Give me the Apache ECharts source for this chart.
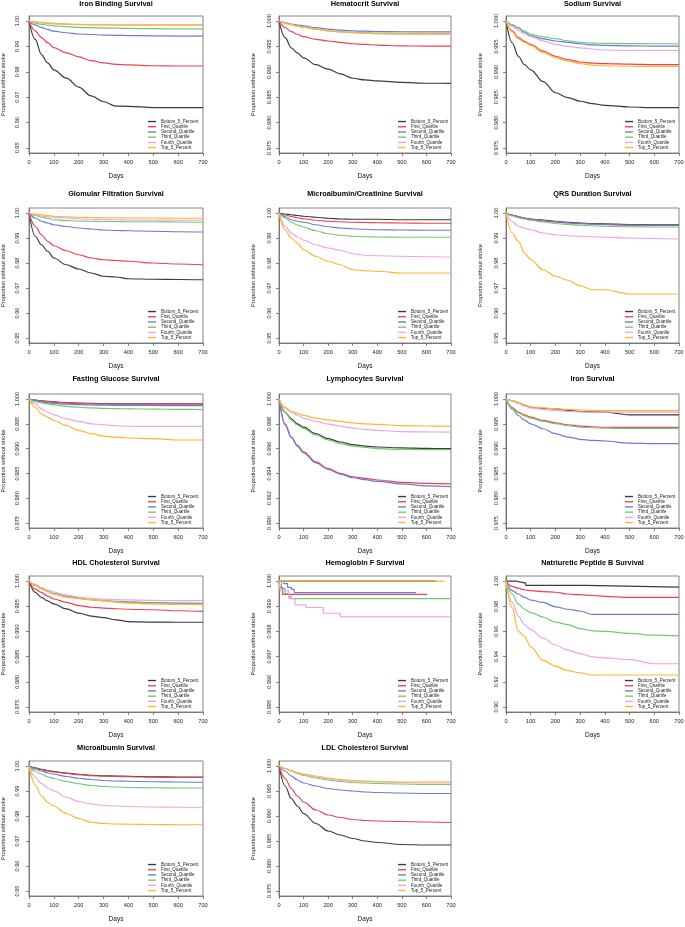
<!DOCTYPE html>
<html><head><meta charset="utf-8">
<script src="https://cdn.jsdelivr.net/npm/echarts@6/dist/echarts.min.js"></script>
<style>html,body{margin:0;padding:0;background:#fff}#c{width:685px;height:927px}</style>
</head><body><div id="c"></div>
<script>
// ---------- DATA ----------
const days = [0, 25, 50, 75, 100, 150, 200, 250, 300, 350, 400, 500, 600, 700];
const seriesNames = ['Bottom_5_Percent', 'First_Quartile', 'Second_Quartile', 'Third_Quartile', 'Fourth_Quartile', 'Top_5_Percent'];
const xTickLabels = ['0', '100', '200', '300', '400', '500', '600', '700'];
const yTicks95 = ['0.95', '0.96', '0.97', '0.98', '0.99', '1.00'];
const yTicks975 = ['0.975', '0.980', '0.985', '0.990', '0.995', '1.000'];
const yTicks990 = ['0.990', '0.992', '0.994', '0.996', '0.998', '1.000'];
const yTicks995 = ['0.995', '0.996', '0.997', '0.998', '0.999', '1.000'];
const yTicks90 = ['0.90', '0.92', '0.94', '0.96', '0.98', '1.00'];
const panelTitles = ['Iron Binding Survival', 'Hematocrit Survival', 'Sodium Survival',
  'Glomular Filtration Survival', 'Microalbumin/Creatinine Survival', 'QRS Duration Survival',
  'Fasting Glucose Survival', 'Lymphocytes Survival', 'Iron Survival',
  'HDL Cholesterol Survival', 'Hemoglobin F Survival', 'Natriuretic Peptide B Survival',
  'Microalbumin Survival', 'LDL Cholesterol Survival'];

const ironBinding = [
  [1, .9928, .9868, .9835, .9808, .9775, .9740, .9705, .9682, .9665, .9664, .9659, .9659, .9659],
  [1, .9961, .9935, .9915, .9895, .9875, .9859, .9844, .9835, .9829, .9827, .9824, .9823, .9823],
  [1, .9985, .9975, .9967, .9960, .9954, .9949, .9947, .9945, .9944, .9943, .9942, .9941, .9941],
  [1, .9992, .9987, .9984, .9981, .9978, .9975, .9974, .9973, .9972, .9971, .9970, .9969, .9969],
  [1, .9996, .9993, .9991, .9989, .9987, .9986, .9985, .9985, .9984, .9984, .9984, .9984, .9984],
  [1, .9997, .9995, .9993, .9991, .9989, .9987, .9986, .9985, .9985, .9985, .9985, .9985, .9985]];
const hematocrit = [
  [1, .99673, .99473, .99373, .99273, .9914, .99053, .9896, .98873, .9884, .9882, .9879, .98775, .98773],
  [1, .99873, .99793, .99740, .99693, .9964, .99607, .9958, .99553, .9954, .99527, .9951, .99507, .99507],
  [1, .9997, .9994, .9992, .99907, .9987, .9984, .9982, .99807, .998, .99795, .9979, .99787, .99787],
  [1, .9996, .9993, .9990, .9988, .9984, .9981, .9979, .99775, .9977, .99765, .9976, .99755, .99753],
  [1, .9996, .9993, .9990, .9988, .9984, .9981, .9978, .9977, .9976, .9975, .9974, .9974, .9974],
  [1, .9996, .9993, .9990, .9988, .9984, .99807, .9979, .99773, .9976, .9975, .99748, .99747, .99747]];
const sodium = [
  [1, .99573, .99307, .9914, .9904, .98807, .98587, .98493, .9842, .98373, .9834, .98307, .98293, .98293],
  [1, .99807, .99673, .9960, .9954, .99407, .99307, .9924, .99193, .9917, .9916, .9915, .9914, .9914],
  [1, .9992, .9986, .9978, .99707, .9965, .99607, .9958, .99553, .9953, .9952, .9951, .99507, .99507],
  [1, .9993, .9987, .9980, .9974, .9969, .99653, .9961, .9958, .99565, .9956, .99555, .99553, .99553],
  [1, .9990, .9981, .9975, .99693, .9961, .9954, .9950, .99473, .9945, .9943, .9942, .9942, .9942],
  [1, .9979, .9965, .9958, .9952, .9938, .9928, .9921, .9916, .9913, .9912, .9911, .99107, .99107]];
const glomular = [
  [1, .9907, .9873, .9847, .9820, .9793, .9776, .9760, .9747, .9744, .9737, .9735, .9734, .9733],
  [1, .9947, .9913, .9887, .9869, .9849, .9833, .9820, .9813, .9810, .9807, .9800, .9796, .9793],
  [1, .9980, .9967, .9960, .9953, .9946, .9940, .9936, .9932, .9930, .9929, .9927, .9925, .9924],
  [1, .9990, .9984, .9979, .9973, .9970, .9968, .9967, .9966, .9966, .9965, .9965, .9964, .9963],
  [1, .9993, .9988, .9985, .9983, .9980, .9977, .9975, .9974, .9973, .9972, .9972, .9971, .9971],
  [1, .9996, .9993, .9990, .9987, .9985, .9983, .9982, .9981, .9981, .9980, .9980, .9979, .9979]];
const microCreat = [
  [1, .9996, .9993, .9990, .9987, .9983, .9979, .9976, .9975, .9975, .9975, .9973, .9973, .9973],
  [1, .9992, .9986, .9981, .9977, .9971, .9967, .9965, .9963, .9962, .9961, .9960, .9959, .9959],
  [1, .9986, .9973, .9967, .9963, .9953, .9945, .9940, .9937, .9935, .9933, .9932, .9931, .9931],
  [1, .9980, .9963, .9952, .9944, .9929, .9917, .9911, .9907, .9905, .9904, .9903, .9903, .9903],
  [1, .9947, .9920, .9904, .9891, .9873, .9860, .9851, .9837, .9831, .9829, .9827, .9825, .9824],
  [1, .9933, .9900, .9880, .9853, .9827, .9807, .9793, .9773, .9769, .9767, .9760, .9760, .9760]];
const qrs = [
  [1, .9992, .9985, .9980, .9976, .9972, .9967, .9963, .9960, .9958, .9957, .9954, .9953, .9953],
  [1, .9991, .9984, .9979, .9975, .9970, .9965, .9961, .9958, .9956, .9955, .9952, .9951, .9951],
  [1, .9990, .9983, .9978, .9974, .9968, .9964, .9960, .9957, .9955, .9953, .9951, .9950, .9950],
  [1, .9989, .9981, .9976, .9971, .9964, .9958, .9954, .9951, .9949, .9947, .9945, .9944, .9944],
  [1, .9967, .9947, .9940, .9933, .9920, .9913, .9909, .9907, .9905, .9903, .9900, .9898, .9896],
  [1, .9920, .9887, .9840, .9813, .9773, .9747, .9731, .9709, .9693, .9693, .9676, .9676, .9676]];
const fastingGlucose = [
  [1, .99975, .9996, .9995, .9994, .99925, .99915, .9991, .99905, .9990, .9990, .9990, .9990, .9990],
  [1, .99975, .9996, .99945, .99935, .9992, .9991, .99905, .9990, .9990, .9990, .9990, .9990, .9990],
  [1, .9997, .9994, .99925, .9991, .99895, .99885, .9988, .99875, .99872, .9987, .99868, .99866, .99865],
  [1, .99947, .9992, .9990, .9988, .9985, .99833, .9982, .9981, .99805, .9980, .99795, .9979, .99787],
  [1, .9990, .9980, .99733, .9968, .9960, .99547, .9950, .9948, .9946, .9945, .99448, .99447, .99447],
  [1, .99833, .9970, .99633, .99567, .99467, .99367, .9930, .99253, .9923, .99213, .9920, .99173, .99173]];
const lymphocytes = [
  [1, .99893, .9984, .9980, .99773, .9972, .9968, .99653, .99632, .9962, .99613, .99605, .99601, .9960],
  [1, .9980, .99693, .99627, .99573, .99493, .9944, .9940, .99373, .9936, .99347, .99328, .9932, .99315],
  [1, .9979, .9969, .9962, .99565, .99485, .99432, .99395, .99365, .9935, .99335, .99315, .9930, .99293],
  [1, .9989, .9983, .9979, .9976, .9971, .9967, .9964, .9962, .9961, .9960, .99593, .99592, .99592],
  [1, .99925, .99893, .9987, .99845, .99819, .99797, .9978, .99765, .99755, .99747, .99737, .99734, .99733],
  [1, .99933, .99899, .99885, .99867, .99845, .99832, .9982, .99808, .9980, .99795, .99785, .99782, .99781]];
const iron = [
  [1, .99967, .9992, .9987, .99833, .9981, .9980, .9977, .99747, .9974, .99733, .9968, .9968, .9968],
  [1, .99833, .99733, .9968, .99633, .99567, .9952, .9948, .99453, .9944, .9943, .99428, .99427, .99427],
  [1, .9980, .99667, .99573, .9950, .9940, .9930, .99233, .99187, .99165, .99153, .9911, .9910, .9910],
  [1, .9982, .9972, .9966, .99613, .9955, .99503, .9946, .9943, .9942, .9941, .99408, .99407, .99407],
  [1, .9996, .9991, .9986, .9982, .9979, .9977, .9975, .9974, .99735, .99733, .99733, .99733, .99733],
  [1, .99967, .9993, .9988, .9984, .9982, .9980, .9979, .99778, .9977, .99767, .99767, .99767, .99767]];
const hdl = [
  [1, .99773, .99675, .99605, .99545, .99448, .99364, .99305, .99273, .9923, .99195, .99185, .99182, .99182],
  [1, .99838, .99773, .9970, .99643, .99578, .99513, .9948, .99461, .9945, .9944, .9943, .9941, .99396],
  [1, .9992, .9985, .9980, .9975, .9970, .9966, .9963, .9961, .99595, .99585, .9957, .9956, .99558],
  [1, .9992, .9985, .9980, .9975, .9969, .99655, .9963, .9961, .9959, .99575, .9956, .99548, .99545],
  [1, .9993, .9987, .9982, .9978, .9972, .9968, .99655, .9964, .9963, .99625, .99615, .9961, .9961],
  [1, .9992, .9985, .9979, .9974, .9968, .9965, .9963, .9961, .9958, .9956, .99545, .99535, .99532]];
// Hemoglobin F: [day, value] step points
const hemoglobinF = [
  [[0, 1], [640, 1]],
  [[0, 1], [5, .99974], [15, .99947], [603, .99947]],
  [[0, 1], [20, .9999], [35, .99975], [50, .99967], [62, .99954], [558, .99954]],
  [[0, 1], [10, .9997], [25, .9995], [40, .99938], [50, .9993], [700, .9993]],
  [[0, 1], [5, .99961], [40, .9993], [65, .99905], [110, .99895], [180, .99872], [250, .99858], [700, .99858]],
  [[0, 1], [673, 1]]];
const natriuretic = [
  [[0, 1], [40, .9992], [60, .9984], [80, .9965], [320, .9951], [700, .9951]],
  [1, .9957, .9943, .9930, .9924, .9916, .9911, .9897, .9892, .9885, .9878, .9870, .9870, .9870],
  [1, .9924, .9897, .9870, .9849, .9830, .9795, .9776, .9762, .9735, .9735, .9735, .9735, .9735],
  [1, .9897, .9816, .9776, .9749, .9714, .9673, .9654, .9622, .9605, .9600, .9584, .9570, .9565],
  [1, .9830, .9722, .9654, .9614, .9546, .9492, .9451, .9424, .9397, .9390, .9376, .9343, .9343],
  [1, .9789, .9600, .9559, .9478, .9370, .9324, .9289, .9270, .9254, .9254, .9254, .9254, .9254]];
const microalbumin = [
  [1, .9993, .9987, .9982, .9978, .9972, .9967, .9963, .9961, .9960, .9959, .9957, .9956, .9956],
  [1, .9992, .9985, .9980, .9976, .9970, .9965, .9961, .9959, .9958, .9957, .9955, .9954, .9954],
  [1, .9988, .9980, .9973, .9967, .9958, .9951, .9946, .9942, .9940, .9939, .9937, .9936, .9935],
  [1, .9980, .9967, .9957, .9950, .9938, .9929, .9922, .9918, .9916, .9914, .9913, .9912, .9912],
  [1, .9955, .9930, .9912, .9900, .9875, .9858, .9848, .9842, .9840, .9838, .9836, .9835, .9835],
  [1, .9925, .9880, .9855, .9840, .9810, .9790, .9775, .9770, .9768, .9767, .9766, .9765, .9765]];
const ldl = [
  [1, .9960, .9935, .9920, .9905, .9885, .9870, .9862, .9855, .9850, .9847, .9843, .9842, .9842],
  [1, .9975, .9955, .9940, .9928, .9912, .9902, .9897, .9893, .9891, .9890, .9889, .9888, .9887],
  [1, .9990, .9980, .9972, .9966, .9960, .9955, .9952, .9950, .9948, .9947, .9946, .9945, .9945],
  [1, .9995, .9990, .9985, .9981, .9976, .9972, .9969, .9967, .9966, .9965, .9964, .9963, .9963],
  [1, .9995, .9990, .9986, .9983, .9978, .9974, .9971, .9970, .9969, .9968, .9967, .9966, .9966],
  [1, .9995, .9991, .9987, .9984, .9980, .9976, .9973, .9971, .9970, .9969, .9968, .9968, .9968]];

// ---------- LAYOUT / STYLE ----------
const panelValues = [ironBinding, hematocrit, sodium, glomular, microCreat, qrs, fastingGlucose,
  lymphocytes, iron, hdl, hemoglobinF, natriuretic, microalbumin, ldl];
const panelTicks = [yTicks95, yTicks975, yTicks975, yTicks95, yTicks95, yTicks95, yTicks975,
  yTicks990, yTicks975, yTicks975, yTicks995, yTicks90, yTicks95, yTicks975];
const colors = ['#3c3c3c', '#f0424e', '#6a7dd0', '#74c874', '#e8a6e6', '#ffb52e'];
const rowTop = [16, 208, 394, 576, 761];
const rowBottom = [153, 343, 528, 712, 896];
const rowTitle = [4, 194, 379, 563, 748];
const colLeft = [29, 279, 506];
const colRight = [203, 451, 679];
const FONT = 'Liberation Sans, Arial, sans-serif';

const option = { animation: false, title: [], grid: [], xAxis: [], yAxis: [], legend: [], series: [] };

panelValues.forEach((vals, i) => {
  const r = Math.floor(i / 3), c = i % 3;
  const L = colLeft[c], R = colRight[c], T = rowTop[r], B = rowBottom[r];
  const tickLabels = panelTicks[i];
  const tv = tickLabels.map(Number);
  const lo = tv[0], hi = tv[tv.length - 1], pad = (hi - lo) * 0.04;
  const dec = tickLabels[0].split('.')[1].length;

  option.title.push({
    text: panelTitles[i], left: (L + R) / 2, top: rowTitle[r] - 4, textAlign: 'center', padding: 0,
    textStyle: { fontSize: 7.3, fontWeight: 'bold', color: '#000', fontFamily: FONT }
  });
  option.grid.push({
    left: L, top: T, width: R - L, height: B - T, show: true, borderColor: '#666', borderWidth: 0.8,
    backgroundColor: 'transparent', outerBoundsMode: 'none', containLabel: false
  });
  option.xAxis.push({
    type: 'value', gridIndex: i, min: 0, max: 700, interval: 100,
    name: 'Days', nameLocation: 'middle', nameGap: 19.5,
    nameTextStyle: { fontSize: 6.5, color: '#111', fontFamily: FONT },
    axisLine: { show: true, lineStyle: { color: '#666', width: 0.8 } },
    axisTick: { show: true, length: 3, lineStyle: { color: '#666', width: 0.8 } },
    axisLabel: { fontSize: 5.6, margin: 6.5, color: '#222', fontFamily: FONT,
      formatter: v => xTickLabels[Math.round(v / 100)] },
    splitLine: { show: false }
  });
  option.yAxis.push({
    type: 'value', gridIndex: i, min: lo - pad, max: hi + pad,
    name: 'Proportion without stroke', nameLocation: 'middle', nameRotate: 90, nameGap: c === 0 ? 23 : 23,
    nameTextStyle: { fontSize: 5.7, color: '#111', fontFamily: FONT },
    axisLine: { show: true, lineStyle: { color: '#666', width: 0.8 } },
    axisTick: { show: true, length: 3, customValues: tv, lineStyle: { color: '#666', width: 0.8 } },
    axisLabel: { fontSize: 5.6, rotate: 90, margin: c === 0 ? 9 : 7, color: '#222', fontFamily: FONT,
      customValues: tv, formatter: v => v.toFixed(dec) },
    splitLine: { show: false }
  });
  option.legend.push({
    data: seriesNames, left: L + 119, top: B - 34, orient: 'vertical', padding: 0,
    itemWidth: 8, itemHeight: 1.4, itemGap: 0.1, icon: 'rect', selectedMode: false,
    textStyle: { fontSize: 4.5, lineHeight: 5.1, color: '#222', fontFamily: FONT, padding: 0 }
  });
  vals.forEach((s, k) => {
    const isPairs = Array.isArray(s[0]);
    const data = isPairs ? s : s.map((v, j) => [days[j], v]);
    option.series.push({
      type: 'line', name: seriesNames[k], xAxisIndex: i, yAxisIndex: i, data,
      showSymbol: false, symbol: 'none', silent: true,
      step: isPairs ? 'end' : false,
      smooth: isPairs ? false : 0.35, smoothMonotone: 'x',
      color: colors[k], lineStyle: { width: 1.2, color: colors[k] }
    });
  });
});

const chart = echarts.init(document.getElementById('c'), null, { renderer: 'canvas' });
chart.setOption(option);
</script></body></html>
